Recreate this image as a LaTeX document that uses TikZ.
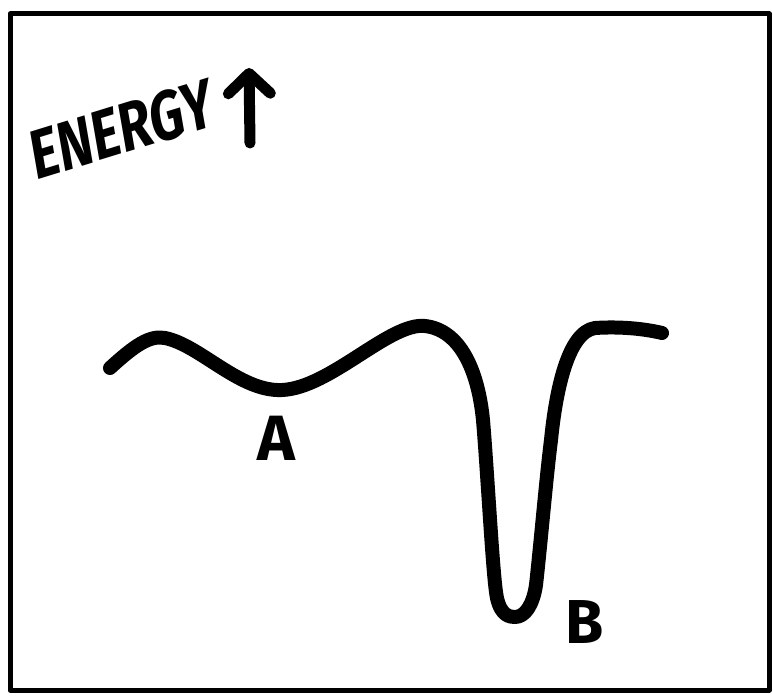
\documentclass[tikz,border=0pt]{standalone}
\usepackage{fontspec}
\setmainfont{Fira Sans}
\usetikzlibrary{arrows.meta}

\begin{document}
\begin{tikzpicture}[x=1pt,y=-1pt,line cap=round,line join=round]
  \useasboundingbox (0,0) rectangle (773,698);
  % frame
  \draw[line width=5pt] (10,14) rectangle (769,690);
  % axis label
  \node[font=\bfseries\fontsize{70}{72}\selectfont,xscale=0.75,rotate=13,anchor=south west,inner sep=0pt] (energy) at (36,182) {ENERGY};
  \coordinate (ArT) at (250,143);
  \coordinate (ArH) at (249,68);
  \draw[line width=11pt,-{Straight Barb[length=20pt,width=42pt,line cap=round,line join=round]}] (ArT) -- (ArH);
  % energy landscape
  \draw[line width=14pt] (110,368)
    .. controls (135,345) and (150,335) .. (165,338)
    .. controls (200,345) and (240,392) .. (282,390)
    .. controls (330,388) and (390,322) .. (425,326)
    .. controls (460,330) and (478,370) .. (483,420)
    .. controls (488,480) and (493,580) .. (497,598)
    .. controls (501,616) and (510,617) .. (515,617)
    .. controls (525,617) and (533,605) .. (536,585)
    .. controls (541,540) and (546,480) .. (551,440)
    .. controls (556,390) and (568,332) .. (595,328)
    .. controls (625,326) and (650,330) .. (662,333);
  % minima
  \node[font=\bfseries\fontsize{64}{66}\selectfont,inner sep=0pt] (labA) at (276,438) {A};
  \node[font=\bfseries\fontsize{62}{64}\selectfont,inner sep=0pt] (labB) at (585,622) {B};
\end{tikzpicture}
\end{document}
